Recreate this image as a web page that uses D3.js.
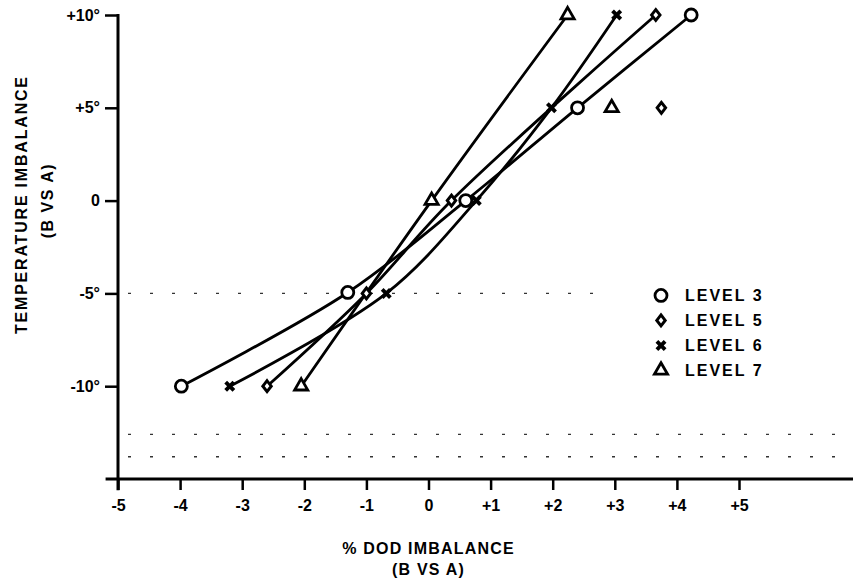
<!DOCTYPE html>
<html>
<head>
<meta charset="utf-8">
<script src="https://cdn.jsdelivr.net/npm/d3@7"></script>
<style>
  body { margin: 0; background: #fff; }
  text { font-family: "Liberation Sans", Arial, sans-serif; font-weight: bold; fill: #000; }
</style>
</head>
<body>
<script>
var width = 853
var height = 578

// tick values and labels
var xTicks = [-5, -4, -3, -2, -1, 0, 1, 2, 3, 4, 5]
var xTickLabels = ['-5', '-4', '-3', '-2', '-1', '0', '+1', '+2', '+3', '+4', '+5']
var yTicks = [10, 5, 0, -5, -10]
var yTickLabels = ['+10°', '+5°', '0', '-5°', '-10°']

// points joined by each curve  [% DOD imbalance, temperature imbalance]
var level3 = [[-3.98, -10], [-1.3, -4.95], [0.6, 0], [2.4, 5], [4.23, 10]]
var level5 = [[-2.6, -10], [-1.0, -5], [0.37, 0], [3.66, 10]]
var level6 = [[-3.2, -10], [-0.68, -5], [0.77, 0], [1.98, 5], [3.03, 10]]
var level7 = [[-2.05, -10], [0.05, 0], [2.24, 10]]
// plotted but not on the curve
var level5Loose = [[3.75, 5]]
var level7Loose = [[2.95, 5]]

var legendLabels = ['LEVEL 3', 'LEVEL 5', 'LEVEL 6', 'LEVEL 7']

var svg = d3.select('body')
			.append('svg')
			.attr('width', width)
			.attr('height', height)

var x = d3.scaleLinear().domain([-5, 5]).range([118, 739])
var y = d3.scaleLinear().domain([-15, 10]).range([479, 15])

// faint scan specks along a few rows
var specks = [[-5, 600, -5], [-5, 850, -12.6], [-5, 850, -13.8]]
svg.selectAll('.speck')
	.data(specks)
	.enter()
	.append('line')
	.attr('x1', function(d){ return x(d[0]) + 10 })
	.attr('x2', function(d){ return d[1] })
	.attr('y1', function(d){ return y(d[2]) })
	.attr('y2', function(d){ return y(d[2]) })
	.attr('stroke', '#333')
	.attr('stroke-width', 1.3)
	.attr('stroke-dasharray', '3,19')

// axes
var xAxis = d3.axisBottom(x)
	.tickValues(xTicks)
	.tickSize(11)
	.tickPadding(10)
	.tickFormat(function(d, i){ return xTickLabels[i] })

var gx = svg.append('g')
	.attr('transform', 'translate(0,' + y(-15) + ')')
	.call(xAxis)
gx.select('.domain').remove()
gx.selectAll('line').attr('stroke', '#000').attr('stroke-width', 2.5)
gx.selectAll('text').style('font-size', '16px').attr('fill', '#000')

var yAxis = d3.axisLeft(y)
	.tickValues(yTicks)
	.tickSize(13)
	.tickPadding(5)
	.tickFormat(function(d, i){ return yTickLabels[i] })

var gy = svg.append('g')
	.attr('transform', 'translate(' + x(-5) + ',0)')
	.call(yAxis)
gy.select('.domain').remove()
gy.selectAll('line').attr('stroke', '#000').attr('stroke-width', 2.5)
gy.selectAll('text').style('font-size', '16px').attr('fill', '#000')

svg.append('line')
	.attr('x1', x(-5.2)).attr('x2', width)
	.attr('y1', y(-15)).attr('y2', y(-15))
	.attr('stroke', '#000').attr('stroke-width', 3)

svg.append('line')
	.attr('x1', x(-5)).attr('x2', x(-5))
	.attr('y1', y(10) - 1).attr('y2', y(-15.6))
	.attr('stroke', '#000').attr('stroke-width', 3)

// axis titles
svg.append('text')
	.attr('x', x(0)).attr('y', 554)
	.attr('text-anchor', 'middle')
	.style('font-size', '16px')
	.style('letter-spacing', '1.2px')
	.text('% DOD IMBALANCE')
svg.append('text')
	.attr('x', x(0)).attr('y', 575)
	.attr('text-anchor', 'middle')
	.style('font-size', '16px')
	.style('letter-spacing', '1.2px')
	.text('(B VS A)')

svg.append('text')
	.attr('transform', 'translate(27,' + (y(0) + 4) + ') rotate(-90)')
	.attr('text-anchor', 'middle')
	.style('font-size', '16px')
	.style('letter-spacing', '1.8px')
	.text('TEMPERATURE IMBALANCE')
svg.append('text')
	.attr('transform', 'translate(53,' + y(0) + ') rotate(-90)')
	.attr('text-anchor', 'middle')
	.style('font-size', '16px')
	.style('letter-spacing', '1.5px')
	.text('(B VS A)')

// curves
var line = d3.line()
	.x(function(d){ return x(d[0]) })
	.y(function(d){ return y(d[1]) })
	.curve(d3.curveCatmullRom.alpha(0.5))

var series = [
	{ pts: level3, loose: [], shape: 'circle' },
	{ pts: level5, loose: level5Loose, shape: 'diamond' },
	{ pts: level6, loose: [], shape: 'cross' },
	{ pts: level7, loose: level7Loose, shape: 'triangle' }
]

svg.selectAll('.curve')
	.data(series)
	.enter()
	.append('path')
	.attr('class', 'curve')
	.attr('d', function(d){ return line(d.pts) })
	.attr('fill', 'none')
	.attr('stroke', '#000')
	.attr('stroke-width', 2.8)

function marker(sel, shape) {
	if (shape == 'circle') {
		sel.append('circle').attr('r', 6)
			.attr('fill', '#fff').attr('stroke', '#000').attr('stroke-width', 2.8)
	} else if (shape == 'diamond') {
		sel.append('path').attr('d', d3.symbol(d3.symbolDiamond, 34)())
			.attr('transform', 'scale(1.35,1)')
			.attr('fill', '#fff').attr('stroke', '#000').attr('stroke-width', 2.4)
	} else if (shape == 'cross') {
		sel.append('path').attr('d', d3.symbol(d3.symbolCross, 75)())
			.attr('transform', 'rotate(45)')
			.attr('fill', '#000')
	} else {
		sel.append('path').attr('d', d3.symbol(d3.symbolTriangle, 75)())
			.attr('fill', '#fff').attr('stroke', '#000').attr('stroke-width', 2.8)
	}
}

series.forEach(function(s){
	s.pts.concat(s.loose).forEach(function(p){
		var g = svg.append('g')
			.attr('transform', 'translate(' + x(p[0]) + ',' + y(p[1]) + ')')
		marker(g, s.shape)
	})
})

// legend
var legend = svg.selectAll('.legend')
	.data(series)
	.enter()
	.append('g')
	.attr('class', 'legend')
	.attr('transform', function(d, i){ return 'translate(661,' + (y(-5) + 2 + i * 25) + ')' })

legend.each(function(d){ marker(d3.select(this), d.shape) })
legend.append('text')
	.attr('x', 24).attr('y', 6)
	.style('font-size', '16px')
	.style('letter-spacing', '2px')
	.text(function(d, i){ return legendLabels[i] })
</script>
</body>
</html>
